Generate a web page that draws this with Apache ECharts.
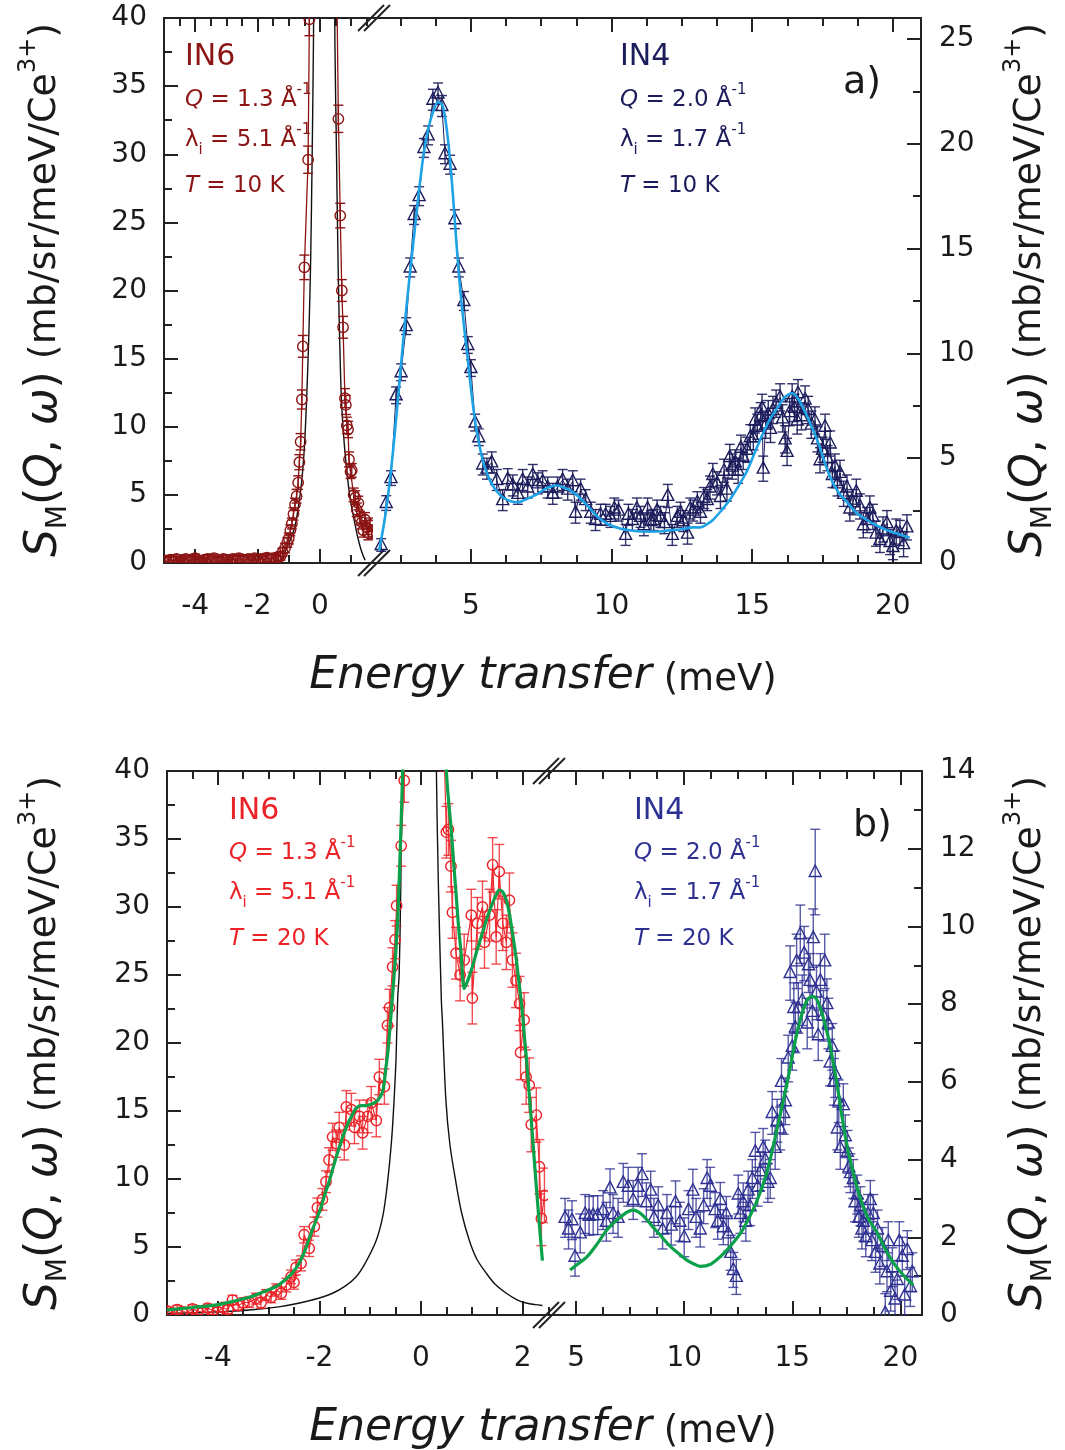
<!DOCTYPE html>
<html>
<head>
<meta charset="utf-8">
<script src="https://cdn.jsdelivr.net/npm/echarts@6/dist/echarts.min.js"></script>
<style>
html,body{margin:0;padding:0;background:#fff;}
#chart{width:1065px;height:1450px;}
</style>
</head>
<body>
<div id="chart"></div>
<script>
// ===== Data: [energy transfer (meV), S_M (mb/sr/meV/Ce3+), error] =====

// (a) IN6, T = 10 K  (left axis)
const in6A = [
  [-5.0,0.2,0.3],[-4.9,0.1,0.3],[-4.8,0.25,0.3],[-4.7,0.15,0.3],[-4.6,0.3,0.3],[-4.5,0.1,0.3],
  [-4.4,0.2,0.3],[-4.3,0.3,0.3],[-4.2,0.15,0.3],[-4.1,0.25,0.3],[-4.0,0.35,0.3],[-3.9,0.2,0.3],
  [-3.8,0.1,0.3],[-3.7,0.25,0.3],[-3.6,0.3,0.3],[-3.5,0.15,0.3],[-3.4,0.35,0.3],[-3.3,0.2,0.3],
  [-3.2,0.1,0.3],[-3.1,0.3,0.3],[-3.0,0.25,0.3],[-2.9,0.15,0.3],[-2.8,0.3,0.3],[-2.7,0.2,0.3],
  [-2.6,0.35,0.3],[-2.5,0.25,0.3],[-2.4,0.2,0.3],[-2.3,0.3,0.3],[-2.2,0.15,0.3],[-2.1,0.35,0.3],
  [-2.0,0.25,0.3],[-1.9,0.3,0.3],[-1.8,0.2,0.3],[-1.7,0.4,0.3],[-1.6,0.3,0.3],[-1.5,0.35,0.3],
  [-1.4,0.3,0.3],[-1.33,0.45,0.3],[-1.27,0.5,0.3],[-1.2,0.8,0.3],[-1.12,1.1,0.35],[-1.05,1.5,0.35],
  [-1.0,1.8,0.4],[-0.95,2.4,0.4],[-0.9,2.9,0.4],[-0.85,3.6,0.45],[-0.8,4.3,0.45],[-0.75,4.9,0.5],
  [-0.7,5.9,0.5],[-0.66,7.4,0.55],[-0.62,8.9,0.6],[-0.58,12.0,0.7],[-0.55,15.9,0.8],[-0.5,21.7,0.9],
  [-0.38,29.6,1.0],[-0.34,39.9,1.2],[-0.25,60,1.5],[0.1,140,2.0],[0.45,60,1.5],[0.59,32.6,1.0],
  [0.65,25.5,0.9],[0.7,20.0,0.8],[0.74,17.3,0.8],[0.8,12.1,0.7],[0.83,11.6,0.7],[0.86,10.1,0.6],
  [0.9,9.8,0.6],[0.93,7.6,0.55],[0.98,6.7,0.5],[1.02,6.8,0.5],[1.08,5.0,0.5],[1.13,4.8,0.5],
  [1.18,3.9,0.5],[1.23,4.4,0.5],[1.28,3.3,0.5],[1.34,3.0,0.5],[1.39,2.4,0.5],[1.44,3.2,0.5],
  [1.5,2.6,0.5],[1.55,2.2,0.5],[1.6,2.8,0.5],[1.66,2.3,0.5]
];

// (a) resolution function (left axis)
const resA = [
  [-1.28,0.05],[-1.1,0.9],[-0.95,1.7],[-0.8,2.7],[-0.7,4.0],[-0.59,5.9],[-0.5,8.5],[-0.43,11.9],
  [-0.36,16.5],[-0.3,22],[-0.25,30],[-0.21,38],[-0.18,48],[0.13,200],[0.45,48],[0.48,38],[0.53,30],
  [0.58,22],[0.63,16.5],[0.69,11.9],[0.77,9.0],[0.85,7.0],[0.95,5.0],[1.05,3.7],[1.12,2.9],
  [1.2,2.0],[1.3,1.1],[1.39,0.5],[1.45,0.2]
];

// (a) IN4, T = 10 K  (right axis)
const in4A = [
  [1.81,0.86,0.3],[1.99,2.86,0.35],[2.16,4.05,0.35],[2.34,8.0,0.4],[2.52,9.1,0.4],[2.70,11.3,0.4],
  [2.84,14.1,0.45],[2.98,16.6,0.45],[3.16,17.5,0.45],[3.33,19.8,0.45],[3.48,20.4,0.45],[3.65,22.1,0.5],
  [3.83,22.4,0.5],[3.97,21.8,0.5],[4.08,19.5,0.45],[4.26,19.0,0.45],[4.43,16.4,0.45],[4.57,14.1,0.45],
  [4.75,12.5,0.45],[4.89,10.4,0.4],[5.0,9.3,0.4],[5.15,6.7,0.4],[5.28,6.0,0.4],[5.42,4.7,0.5],
  [5.57,4.5,0.5],[5.74,4.8,0.5],[5.92,3.96,0.5],[6.13,3.0,0.5],[6.31,4.0,0.5],[6.49,3.7,0.5],
  [6.67,3.3,0.5],[6.84,3.96,0.5],[7.02,3.6,0.5],[7.2,4.2,0.5],[7.38,3.8,0.5],[7.55,3.9,0.5],
  [7.73,3.6,0.5],[7.91,3.3,0.5],[8.08,3.6,0.5],[8.26,3.96,0.5],[8.44,3.5,0.5],[8.62,3.9,0.5],
  [8.72,2.4,0.5],[8.9,3.5,0.5],[9.08,3.0,0.5],[9.26,2.4,0.5],[9.43,2.05,0.5],[9.61,2.3,0.5],
  [9.79,2.3,0.5],[9.96,2.2,0.5],[10.1,2.6,0.5],[10.25,2.5,0.5],[10.5,1.34,0.5],[10.6,2.3,0.5],
  [10.74,2.05,0.5],[10.9,2.6,0.5],[11.03,2.2,0.5],[11.15,1.8,0.5],[11.28,2.6,0.5],[11.4,2.0,0.5],
  [11.5,2.05,0.5],[11.62,2.5,0.5],[11.74,2.2,0.5],[11.88,1.9,0.5],[12.0,3.2,0.55],[12.16,1.34,0.5],
  [12.34,2.2,0.5],[12.45,2.4,0.5],[12.55,2.0,0.5],[12.7,1.4,0.5],[12.8,2.6,0.5],[12.9,2.5,0.5],
  [13.05,2.9,0.5],[13.16,2.4,0.5],[13.28,3.1,0.5],[13.4,3.0,0.5],[13.5,3.6,0.55],[13.6,4.2,0.55],
  [13.75,3.8,0.55],[13.87,3.15,0.55],[14.0,4.4,0.55],[14.1,3.5,0.55],[14.2,5.06,0.6],[14.29,4.6,0.6],
  [14.4,4.8,0.6],[14.5,4.4,0.6],[14.6,5.5,0.6],[14.68,5.06,0.6],[14.82,5.4,0.6],[14.93,6.0,0.6],
  [15.04,6.0,0.6],[15.1,6.8,0.6],[15.18,6.5,0.6],[15.3,7.0,0.65],[15.35,7.4,0.65],[15.39,4.5,0.6],
  [15.48,6.6,0.65],[15.57,7.1,0.65],[15.65,6.4,0.65],[15.74,7.3,0.65],[15.85,7.6,0.65],[15.99,7.9,0.65],
  [16.08,6.9,0.65],[16.17,5.9,0.65],[16.24,5.3,0.65],[16.33,7.2,0.65],[16.42,7.9,0.65],[16.5,7.4,0.65],
  [16.6,6.8,0.65],[16.63,8.1,0.65],[16.75,7.0,0.65],[16.88,7.8,0.65],[16.99,7.3,0.65],[17.1,6.6,0.65],
  [17.23,6.8,0.65],[17.32,5.9,0.6],[17.41,4.9,0.6],[17.5,5.4,0.6],[17.59,6.5,0.6],[17.68,5.0,0.6],
  [17.77,5.7,0.6],[17.85,4.2,0.6],[17.94,4.6,0.6],[18.03,3.8,0.6],[18.12,4.3,0.6],[18.25,3.3,0.6],
  [18.37,3.6,0.6],[18.47,2.6,0.6],[18.58,2.9,0.6],[18.7,3.4,0.6],[18.83,2.7,0.6],[18.95,1.8,0.6],
  [19.08,2.05,0.6],[19.18,2.6,0.6],[19.29,2.2,0.6],[19.4,1.4,0.6],[19.54,1.1,0.6],[19.65,1.6,0.6],
  [19.79,1.9,0.6],[19.9,1.0,0.6],[20.0,0.76,0.6],[20.12,1.5,0.6],[20.25,1.43,0.6],[20.38,0.9,0.6],
  [20.5,1.7,0.6]
];

// (a) IN4 fit (right axis)
const fitA = [
  [1.74,0.6],[1.95,2.2],[2.16,4.4],[2.4,7.7],[2.62,11.0],[2.8,13.4],[2.98,15.6],[3.15,17.7],
  [3.33,19.6],[3.5,20.8],[3.65,21.5],[3.83,22.0],[4.0,21.8],[4.15,20.6],[4.29,18.75],[4.43,16.3],
  [4.57,13.8],[4.73,11.6],[4.89,9.7],[5.03,8.0],[5.18,6.5],[5.32,5.5],[5.46,4.7],[5.64,4.05],
  [5.82,3.6],[6.0,3.3],[6.17,3.1],[6.42,2.95],[6.67,2.9],[6.9,3.0],[7.15,3.15],[7.38,3.3],
  [7.6,3.5],[7.85,3.65],[8.08,3.7],[8.3,3.6],[8.55,3.45],[8.8,3.2],[9.1,2.8],[9.3,2.5],[9.5,2.2],
  [9.7,2.0],[9.96,1.8],[10.3,1.65],[10.7,1.55],[11.1,1.5],[11.6,1.5],[12.0,1.55],[12.45,1.6],
  [12.9,1.7],[13.16,1.7],[13.4,1.85],[13.6,2.05],[13.9,2.5],[14.2,3.0],[14.5,3.65],[14.82,4.4],
  [15.1,5.3],[15.39,6.2],[15.65,6.9],[15.89,7.4],[16.15,7.9],[16.42,8.1],[16.6,7.9],[16.81,7.4],
  [17.05,6.7],[17.3,5.9],[17.55,4.9],[17.77,4.1],[18.05,3.4],[18.37,2.9],[18.7,2.4],[19.08,2.05],
  [19.4,1.8],[19.79,1.57],[20.2,1.38],[20.6,1.2]
];

// (b) IN6, T = 20 K  (left axis)
const in6B = [
  [-5.0,0.3,0.3],[-4.9,0.15,0.3],[-4.8,0.4,0.3],[-4.7,0.25,0.3],[-4.6,0.2,0.3],[-4.5,0.45,0.3],
  [-4.4,0.3,0.3],[-4.3,0.2,0.3],[-4.2,0.5,0.3],[-4.1,0.35,0.3],[-4.0,0.25,0.3],[-3.9,0.55,0.3],
  [-3.8,0.4,0.3],[-3.71,1.1,0.35],[-3.6,0.7,0.35],[-3.5,0.9,0.35],[-3.38,0.96,0.4],[-3.25,1.2,0.4],
  [-3.15,0.9,0.4],[-3.05,1.47,0.4],[-2.95,1.3,0.4],[-2.85,1.84,0.45],[-2.75,1.6,0.45],[-2.65,2.2,0.5],
  [-2.56,2.8,0.5],[-2.5,2.4,0.5],[-2.46,3.5,0.55],[-2.36,3.8,0.55],[-2.3,5.9,0.6],[-2.2,4.9,0.6],
  [-2.1,6.5,0.7],[-2.04,7.9,0.7],[-1.94,8.5,0.8],[-1.87,9.8,0.8],[-1.81,11.4,0.9],[-1.74,13.1,1.0],
  [-1.67,12.6,1.0],[-1.61,13.8,1.1],[-1.51,12.5,1.1],[-1.47,15.3,1.2],[-1.37,15.1,1.2],[-1.31,13.8,1.2],
  [-1.21,14.6,1.2],[-1.15,13.4,1.2],[-1.05,14.6,1.2],[-0.98,15.6,1.2],[-0.88,14.3,1.2],[-0.82,17.5,1.3],
  [-0.72,16.8,1.3],[-0.66,21.3,1.3],[-0.62,22.6,1.35],[-0.56,25.6,1.4],[-0.51,27.6,1.4],[-0.48,30.1,1.5],
  [-0.39,34.5,1.5],[-0.33,39.3,1.6],[-0.25,55,2.0],[0.0,150,3.0],[0.3,110,3.0],[0.45,42,2.0],
  [0.5,35.5,1.9],[0.54,35.7,1.9],[0.59,33.0,1.9],[0.62,29.6,1.9],[0.69,26.6,1.9],[0.77,25.0,1.9],
  [0.85,26.1,1.9],[0.99,29.4,1.9],[1.01,23.3,1.9],[1.11,28.8,1.9],[1.21,30.0,1.9],[1.25,27.4,1.9],
  [1.35,29.4,1.9],[1.41,33.1,2.0],[1.48,27.8,2.0],[1.54,32.6,2.0],[1.61,28.8,2.0],[1.68,27.4,2.0],
  [1.74,30.5,2.0],[1.8,26.1,2.0],[1.87,24.6,2.0],[1.94,22.9,2.0],[1.96,19.3,2.0],[2.03,21.7,2.0],
  [2.07,17.5,2.0],[2.13,16.9,2.0],[2.17,14.0,2.0],[2.27,14.7,2.0],[2.33,10.9,2.0],[2.37,7.1,2.0],
  [2.43,8.8,2.0]
];

// (b) resolution function (left axis)
const resB = [
  [-5,0.12],[-4.2,0.2],[-3.38,0.37],[-2.8,0.6],[-2.39,0.88],[-2.0,1.25],[-1.74,1.6],[-1.5,2.1],
  [-1.28,2.8],[-1.1,3.8],[-0.88,5.5],[-0.75,7.3],[-0.66,9.7],[-0.58,12.8],[-0.53,15.8],[-0.49,19],
  [-0.46,23.2],[-0.43,25.1],[-0.4,31],[-0.37,40.8],[-0.3,60],[0.0,200],[0.25,60],[0.3,40.8],
  [0.34,32],[0.4,23.2],[0.42,21.7],[0.49,15.8],[0.57,12.5],[0.69,9.7],[0.8,7.5],[0.95,5.5],
  [1.1,4.1],[1.28,3.1],[1.45,2.3],[1.68,1.6],[1.9,1.1],[2.07,0.88],[2.25,0.76],[2.39,0.7]
];

// (b) IN6 fit (left axis)
const fitB6 = [
  [-5,0.37],[-4.5,0.55],[-4.03,0.74],[-3.7,1.0],[-3.38,1.3],[-3.1,1.7],[-2.85,2.1],[-2.7,2.5],
  [-2.53,3.1],[-2.4,3.8],[-2.3,4.6],[-2.22,5.4],[-2.14,6.25],[-2.05,7.1],[-1.97,7.9],[-1.89,8.9],
  [-1.81,9.8],[-1.74,10.7],[-1.67,11.6],[-1.6,12.4],[-1.54,13.1],[-1.47,13.8],[-1.41,14.3],
  [-1.34,14.8],[-1.28,15.2],[-1.18,15.4],[-1.08,15.4],[-0.98,15.5],[-0.88,15.7],[-0.81,16.0],
  [-0.75,16.5],[-0.72,17.2],[-0.69,18.2],[-0.65,19.4],[-0.62,20.7],[-0.56,23.5],[-0.5,26.5],
  [-0.46,29],[-0.41,34],[-0.37,38.8],[-0.33,44],[-0.2,70],[0.0,120],[0.3,80],[0.45,47],[0.5,40],
  [0.55,37.5],[0.59,35.9],[0.64,33.4],[0.69,31.0],[0.74,28.5],[0.79,26.6],[0.85,24.0],[0.9,24.4],
  [0.95,24.9],[1.01,25.6],[1.11,26.9],[1.21,28.1],[1.31,29.3],[1.41,30.3],[1.48,30.9],[1.54,31.25],
  [1.61,31.1],[1.68,30.5],[1.74,29.5],[1.8,28.1],[1.87,26.3],[1.94,24.1],[1.99,22.5],[2.04,20.3],
  [2.09,18.2],[2.14,15.8],[2.19,13.4],[2.24,10.9],[2.29,8.5],[2.34,6.2],[2.39,4.0]
];

// (b) IN4, T = 20 K  (right axis)
const in4B = [
  [4.49,2.5,0.5],[4.65,2.2,0.5],[4.81,2.44,0.5],[4.95,1.5,0.5],[5.19,2.1,0.5],[5.42,2.6,0.5],
  [5.6,2.55,0.5],[5.79,2.57,0.5],[6.0,2.57,0.5],[6.25,2.7,0.5],[6.4,2.4,0.5],[6.57,3.26,0.5],
  [6.71,2.6,0.5],[6.94,2.5,0.5],[7.18,3.4,0.5],[7.41,3.3,0.5],[7.64,2.96,0.5],[7.87,3.3,0.5],
  [8.05,3.6,0.55],[8.25,2.9,0.5],[8.45,3.2,0.5],[8.6,2.5,0.5],[8.8,2.8,0.5],[9.0,2.2,0.5],
  [9.2,2.6,0.5],[9.4,2.3,0.5],[9.6,2.9,0.55],[9.8,2.4,0.5],[10.0,2.0,0.5],[10.2,2.7,0.5],
  [10.4,3.2,0.55],[10.55,2.5,0.5],[10.74,2.2,0.45],[10.9,2.8,0.45],[11.06,3.5,0.5],[11.2,3.3,0.5],
  [11.43,2.7,0.45],[11.55,2.4,0.45],[11.67,2.96,0.45],[11.81,2.26,0.45],[11.95,2.6,0.45],
  [12.04,2.1,0.45],[12.15,1.6,0.45],[12.27,1.16,0.45],[12.41,0.98,0.45],[12.5,3.1,0.5],[12.6,2.6,0.5],
  [12.73,2.9,0.5],[12.85,2.4,0.5],[12.96,3.2,0.5],[13.05,2.8,0.5],[13.15,3.5,0.5],[13.29,4.2,0.5],
  [13.4,3.3,0.5],[13.52,3.7,0.5],[13.65,4.3,0.5],[13.75,4.0,0.5],[13.87,3.4,0.5],[13.98,3.5,0.5],
  [14.07,5.2,0.55],[14.21,4.3,0.55],[14.3,5.0,0.55],[14.44,4.8,0.55],[14.5,6.0,0.6],[14.6,5.2,0.55],
  [14.68,5.5,0.6],[14.81,6.6,0.6],[14.9,8.8,0.7],[15.0,6.9,0.6],[15.07,7.9,0.65],[15.14,7.4,0.65],
  [15.2,9.1,0.7],[15.28,7.9,0.65],[15.37,9.8,0.75],[15.46,8.1,0.65],[15.55,9.3,0.7],[15.69,7.5,0.65],
  [15.75,9.0,0.7],[15.82,8.6,0.7],[15.93,7.8,0.65],[15.97,9.7,0.75],[16.06,11.4,1.1],[16.12,8.3,0.7],
  [16.2,7.2,0.65],[16.3,8.6,0.7],[16.44,7.7,0.65],[16.5,9.1,0.7],[16.6,8.0,0.65],[16.67,7.5,0.65],
  [16.75,6.5,0.6],[16.85,6.9,0.6],[16.92,6.0,0.6],[16.99,6.2,0.6],[17.08,4.8,0.55],[17.15,5.5,0.55],
  [17.22,4.3,0.55],[17.36,5.4,0.55],[17.45,4.6,0.55],[17.55,4.2,0.55],[17.62,3.8,0.5],[17.69,3.65,0.5],
  [17.82,3.5,0.5],[17.9,2.9,0.5],[18.0,3.1,0.5],[18.08,2.5,0.5],[18.15,2.8,0.5],[18.22,2.2,0.5],
  [18.29,2.4,0.5],[18.4,2.0,0.5],[18.5,2.6,0.5],[18.61,2.96,0.5],[18.68,1.9,0.5],[18.75,2.6,0.5],
  [18.85,1.6,0.5],[18.94,2.2,0.5],[19.05,1.3,0.5],[19.17,1.75,0.5],[19.3,0.05,0.5],[19.38,1.1,0.5],
  [19.44,1.9,0.5],[19.55,0.6,0.5],[19.63,1.23,0.5],[19.75,0.4,0.5],[19.86,0.9,0.5],[19.95,1.9,0.5],
  [20.09,1.5,0.5],[20.2,0.5,0.5],[20.32,1.67,0.5],[20.46,0.72,0.5],[20.55,1.1,0.5]
];

// (b) IN4 fit (right axis)
const fitB4 = [
  [4.72,1.16],[5.1,1.32],[5.51,1.5],[6.0,1.85],[6.44,2.2],[6.9,2.45],[7.36,2.65],[7.64,2.7],
  [7.9,2.65],[8.2,2.5],[8.5,2.3],[8.9,2.05],[9.3,1.8],[9.7,1.6],[10.1,1.42],[10.5,1.3],[10.74,1.25],
  [11.2,1.3],[11.67,1.5],[12.1,1.75],[12.6,2.1],[13.0,2.5],[13.38,2.96],[13.84,3.7],[14.3,4.8],
  [14.77,6.0],[15.23,7.3],[15.5,7.85],[15.69,8.1],[15.93,8.2],[16.1,8.15],[16.3,7.9],[16.55,7.4],
  [16.76,6.9],[17.08,5.9],[17.3,5.1],[17.55,4.3],[17.85,3.6],[18.15,3.0],[18.5,2.5],[18.94,2.1],
  [19.3,1.7],[19.68,1.34],[20.1,1.05],[20.6,0.77]
];

// Tick values
const ticksLeftA  = { major: [-4, -2, 0], minor: [-3, -1, 1], label: [-4, -2, 0],
                      topMinor: [-4.5, -3.5, -3, -2.5, -1.5, -1, -0.5, 0.5, 1, 1.5] };
const ticksLeftB  = { major: [-4, -2, 0, 2], minor: [-4.5, -3.5, -3, -2.5, -1.5, -1, -0.5, 0.5, 1, 1.5],
                      label: [-4, -2, 0, 2] };
const ticksRightX = { major: [5, 10, 15, 20], minor: [2.5, 3.75, 6.25, 7.5, 8.75, 11.25, 12.5, 13.75, 16.25, 17.5, 18.75],
                      label: [5, 10, 15, 20] };
const ticksY40 = { major: [5, 10, 15, 20, 25, 30, 35], minor: [2.5, 7.5, 12.5, 17.5, 22.5, 27.5, 32.5, 37.5],
                   label: [0, 5, 10, 15, 20, 25, 30, 35, 40] };
const ticksY26 = { major: [5, 10, 15, 20, 25], minor: [2.5, 7.5, 12.5, 17.5, 22.5], label: [0, 5, 10, 15, 20, 25] };
const ticksY14 = { major: [2, 4, 6, 8, 10, 12], minor: [1, 3, 5, 7, 9, 11, 13], label: [0, 2, 4, 6, 8, 10, 12, 14] };

// ===== Layout & styles =====
const FONT = 'DejaVu Sans';
const INK = '#222';
const C = {
  in6a: '#8c1414', in4a: '#1c1c5c', fitA: '#1ea3e6',
  in6b: '#ec2227', in4b: '#2e3192', green: '#0aa14a', res: '#111'
};

const grids = [
  { left: 164, top: 18,  width: 209, height: 545 },   // (a) IN6
  { left: 373, top: 18,  width: 548, height: 545 },   // (a) IN4
  { left: 167, top: 771, width: 381, height: 544 },   // (b) IN6
  { left: 548, top: 771, width: 374, height: 544 }    // (b) IN4
];

const xAxes = [], yAxes = [];

// One visible axis with long ticks + labels, and a companion axis carrying the short ticks.
function addAxis(list, base, major, minor, labels, margin) {
  const idx = list.length;
  list.push(Object.assign({ type: 'value' }, base, {
    axisLine: { show: true, onZero: false, lineStyle: { color: INK, width: 2 } },
    axisTick: { show: true, inside: true, length: 14, customValues: major, lineStyle: { color: INK, width: 2 } },
    axisLabel: labels ? {
      show: true, customValues: labels, margin: margin, fontFamily: FONT, fontSize: 28, color: '#1a1a1a',
      formatter: v => String(v)
    } : { show: false },
    splitLine: { show: false }
  }));
  list.push(Object.assign({ type: 'value' }, base, {
    axisLine: { show: false, onZero: false },
    axisTick: { show: true, inside: true, length: 8, customValues: minor, lineStyle: { color: INK, width: 2 } },
    axisLabel: { show: false },
    splitLine: { show: false }
  }));
  return idx;
}

// x axes
const xA6  = addAxis(xAxes, { gridIndex: 0, position: 'bottom', min: -5, max: 1.7 }, ticksLeftA.major, ticksLeftA.minor, ticksLeftA.label, 30);
addAxis(xAxes, { gridIndex: 0, position: 'top', min: -5, max: 1.7 }, ticksLeftA.major, ticksLeftA.topMinor, null);
const xA4  = addAxis(xAxes, { gridIndex: 1, position: 'bottom', min: 1.52, max: 21 }, ticksRightX.major, ticksRightX.minor, ticksRightX.label, 30);
addAxis(xAxes, { gridIndex: 1, position: 'top', min: 1.52, max: 21 }, ticksRightX.major, ticksRightX.minor, null);
const xB6  = addAxis(xAxes, { gridIndex: 2, position: 'bottom', min: -5, max: 2.5 }, ticksLeftB.major, ticksLeftB.minor, ticksLeftB.label, 30);
addAxis(xAxes, { gridIndex: 2, position: 'top', min: -5, max: 2.5 }, ticksLeftB.major, ticksLeftB.minor, null);
const xB4  = addAxis(xAxes, { gridIndex: 3, position: 'bottom', min: 3.7, max: 21 }, ticksRightX.major, ticksRightX.minor.filter(v => v > 3.7), ticksRightX.label, 30);
addAxis(xAxes, { gridIndex: 3, position: 'top', min: 3.7, max: 21 }, ticksRightX.major, ticksRightX.minor.filter(v => v > 3.7), null);

// y axes
const yA6 = addAxis(yAxes, { gridIndex: 0, position: 'left', min: 0, max: 40 }, ticksY40.major, ticksY40.minor, ticksY40.label, 17);
const yA4 = addAxis(yAxes, { gridIndex: 1, position: 'right', min: 0, max: 26 }, ticksY26.major, ticksY26.minor, ticksY26.label, 18);
const yB6 = addAxis(yAxes, { gridIndex: 2, position: 'left', min: 0, max: 40 }, ticksY40.major, ticksY40.minor, ticksY40.label, 17);
const yB4 = addAxis(yAxes, { gridIndex: 3, position: 'right', min: 0, max: 14 }, ticksY14.major, ticksY14.minor, ticksY14.label, 18);

// Points with vertical error bars
function pointsWithErrors(data, xi, yi, color, barColor, shape, z) {
  return {
    type: 'custom', xAxisIndex: xi, yAxisIndex: yi, data: data, clip: true, z: z, silent: true,
    encode: { x: 0, y: 1 },
    renderItem: function (params, api) {
      const x = api.value(0), y = api.value(1), e = api.value(2);
      const c = api.coord([x, y]), t = api.coord([x, y + e]), b = api.coord([x, y - e]);
      const cw = 5;
      const bar = { stroke: barColor, lineWidth: 1.4, fill: 'none' };
      const kids = [
        { type: 'line', shape: { x1: c[0], y1: t[1], x2: c[0], y2: b[1] }, style: bar },
        { type: 'line', shape: { x1: c[0] - cw, y1: t[1], x2: c[0] + cw, y2: t[1] }, style: bar },
        { type: 'line', shape: { x1: c[0] - cw, y1: b[1], x2: c[0] + cw, y2: b[1] }, style: bar }
      ];
      if (shape === 'circle') {
        kids.push({ type: 'circle', shape: { cx: c[0], cy: c[1], r: 5.2 }, style: { stroke: color, fill: 'none', lineWidth: 1.4 } });
      } else {
        kids.push({ type: 'polygon', shape: { points: [[c[0], c[1] - 7], [c[0] + 6, c[1] + 4.5], [c[0] - 6, c[1] + 4.5]] },
                    style: { stroke: color, fill: 'none', lineWidth: 1.4 } });
      }
      return { type: 'group', children: kids };
    }
  };
}

function curve(data, xi, yi, color, width, z, smooth) {
  return {
    type: 'line', xAxisIndex: xi, yAxisIndex: yi, data: data, symbol: 'none', showSymbol: false,
    smooth: smooth || false, clip: true, z: z, silent: true,
    lineStyle: { color: color, width: width }
  };
}

const series = [
  // (a)
  curve(resA, xA6, yA6, C.res, 1.4, 2, 0.3),
  pointsWithErrors(in6A, xA6, yA6, C.in6a, C.in6a, 'circle', 3),
  curve(in6A.map(p => [p[0], p[1]]), xA6, yA6, C.in6a, 1.3, 4),
  pointsWithErrors(in4A, xA4, yA4, C.in4a, 'rgba(28,28,92,0.9)', 'triangle', 3),
  curve(in4A.map(p => [p[0], p[1]]), xA4, yA4, C.in4a, 1, 4),
  curve(fitA, xA4, yA4, C.fitA, 2.6, 5, 0.3),
  // (b)
  curve(resB, xB6, yB6, C.res, 1.4, 2, 0.3),
  pointsWithErrors(in6B, xB6, yB6, C.in6b, 'rgba(236,34,39,0.8)', 'circle', 3),
  curve(in6B.map(p => [p[0], p[1]]), xB6, yB6, C.in6b, 1.1, 4),
  curve(fitB6, xB6, yB6, C.green, 3.2, 5, 0.3),
  pointsWithErrors(in4B, xB4, yB4, C.in4b, 'rgba(46,49,146,0.8)', 'triangle', 3),
  curve(fitB4, xB4, yB4, C.green, 3.2, 5, 0.3)
];

// ===== Text =====
function infoText(x, y, text, color, size) {
  const lh = Math.round(size * 1.5);
  const small = Math.round(size * 0.64);
  return {
    type: 'text', x: x, y: y, z: 60, silent: true,
    style: {
      text: text, fontFamily: FONT, fontSize: size, fill: color, align: 'left', verticalAlign: 'middle', lineHeight: lh,
      rich: {
        it:  { fontFamily: FONT, fontSize: size, fontStyle: 'italic', fill: color, lineHeight: lh },
        sup: { fontFamily: FONT, fontSize: small, fill: color, verticalAlign: 'top', lineHeight: lh },
        sub: { fontFamily: FONT, fontSize: small, fill: color, verticalAlign: 'bottom', lineHeight: lh }
      }
    }
  };
}

function yTitle(x, y) {
  const lh = 56;
  return {
    type: 'text', x: x, y: y, rotation: Math.PI / 2, z: 60, silent: true,
    style: {
      text: '{s|S}{sub|M}{b|(}{it|Q}{b|, }{it|ω}{b|)} (mb/sr/meV/Ce{sup|3+})',
      fontFamily: FONT, fontSize: 38, fill: '#1a1a1a', align: 'center', verticalAlign: 'middle', lineHeight: lh,
      rich: {
        s:   { fontFamily: FONT, fontSize: 44, fontStyle: 'italic', fill: '#1a1a1a', lineHeight: lh },
        b:   { fontFamily: FONT, fontSize: 44, fill: '#1a1a1a', lineHeight: lh },
        it:  { fontFamily: FONT, fontSize: 44, fontStyle: 'italic', fill: '#1a1a1a', lineHeight: lh },
        sub: { fontFamily: FONT, fontSize: 28, fill: '#1a1a1a', verticalAlign: 'bottom', lineHeight: lh },
        sup: { fontFamily: FONT, fontSize: 24, fill: '#1a1a1a', verticalAlign: 'top', lineHeight: lh }
      }
    }
  };
}

function xTitle(x, y) {
  return {
    type: 'text', x: x, y: y, z: 60, silent: true,
    style: {
      text: '{e|Energy transfer} {u|(meV)}',
      fontFamily: FONT, fontSize: 37, fill: '#1a1a1a', align: 'center', verticalAlign: 'middle', lineHeight: 50,
      rich: {
        e: { fontFamily: FONT, fontSize: 44, fontStyle: 'italic', fill: '#1a1a1a', verticalAlign: 'bottom', lineHeight: 50 },
        u: { fontFamily: FONT, fontSize: 37, fill: '#1a1a1a', verticalAlign: 'bottom', lineHeight: 50 }
      }
    }
  };
}

// Axis break marks "//"
function breakMark(bx, by) {
  return {
    type: 'group', x: bx, y: by, z: 80, silent: true,
    children: [
      { type: 'polygon', shape: { points: [[-15, 13], [11, -13], [17, -13], [-9, 13]] }, style: { fill: '#fff', stroke: 'none' } },
      { type: 'line', shape: { x1: -15, y1: 13, x2: 11, y2: -13 }, style: { stroke: INK, lineWidth: 2 } },
      { type: 'line', shape: { x1: -9, y1: 13, x2: 17, y2: -13 }, style: { stroke: INK, lineWidth: 2 } }
    ]
  };
}

const graphics = [
  breakMark(grids[1].left, grids[1].top),
  breakMark(grids[1].left, grids[1].top + grids[1].height),
  breakMark(grids[3].left, grids[3].top),
  breakMark(grids[3].left, grids[3].top + grids[3].height),

  // (a) labels
  infoText(185, 57, 'IN6', C.in6a, 30),
  infoText(185, 100, '{it|Q} = 1.3 Å{sup|-1}', C.in6a, 23),
  infoText(185, 140, 'λ{sub|i} = 5.1 Å{sup|-1}', C.in6a, 23),
  infoText(185, 186, '{it|T} = 10 K', C.in6a, 23),
  infoText(620, 57, 'IN4', C.in4a, 30),
  infoText(620, 100, '{it|Q} = 2.0 Å{sup|-1}', C.in4a, 23),
  infoText(620, 140, 'λ{sub|i} = 1.7 Å{sup|-1}', C.in4a, 23),
  infoText(620, 186, '{it|T} = 10 K', C.in4a, 23),
  infoText(843, 83, 'a)', '#1a1a1a', 38),

  // (b) labels
  infoText(229, 811, 'IN6', C.in6b, 30),
  infoText(229, 853, '{it|Q} = 1.3 Å{sup|-1}', C.in6b, 23),
  infoText(229, 893, 'λ{sub|i} = 5.1 Å{sup|-1}', C.in6b, 23),
  infoText(229, 939, '{it|T} = 20 K', C.in6b, 23),
  infoText(634, 811, 'IN4', C.in4b, 30),
  infoText(634, 853, '{it|Q} = 2.0 Å{sup|-1}', C.in4b, 23),
  infoText(634, 893, 'λ{sub|i} = 1.7 Å{sup|-1}', C.in4b, 23),
  infoText(634, 939, '{it|T} = 20 K', C.in4b, 23),
  infoText(853, 826, 'b)', '#1a1a1a', 38),

  // axis titles
  yTitle(45, 290), yTitle(1030, 290),
  yTitle(45, 1043), yTitle(1030, 1043),
  xTitle(543, 674), xTitle(543, 1426)
];

const chart = echarts.init(document.getElementById('chart'), null, { renderer: 'canvas' });
chart.setOption({
  backgroundColor: '#fff',
  animation: false,
  grid: grids,
  xAxis: xAxes,
  yAxis: yAxes,
  series: series,
  graphic: graphics
});
</script>
</body>
</html>
